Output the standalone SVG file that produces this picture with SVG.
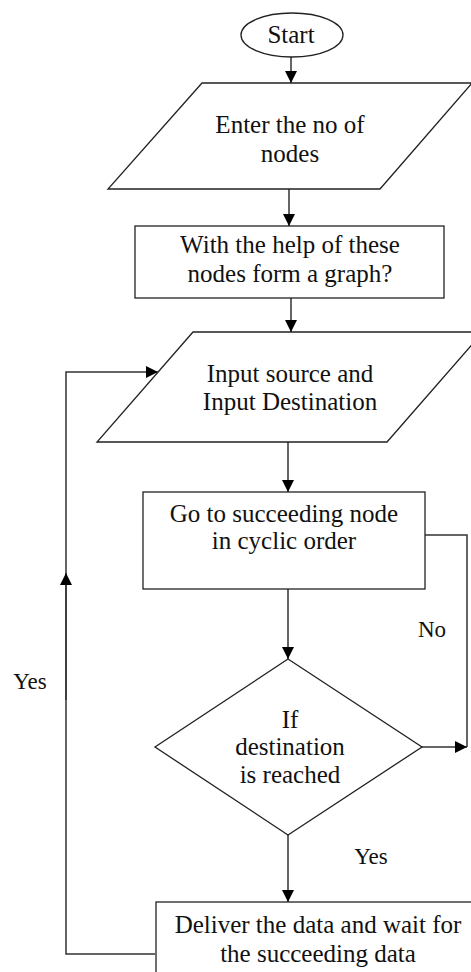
<svg xmlns="http://www.w3.org/2000/svg" width="471" height="972" viewBox="0 0 471 972">
<style>
.shape{fill:#fff;stroke:#222;stroke-width:1.3}
.line{fill:none;stroke:#333;stroke-width:1.5}
.t{font-family:'Liberation Serif','DejaVu Serif','Times New Roman',serif;font-size:25px;fill:#111;text-anchor:middle}
.lbl{font-size:23px}
</style>
<defs>
<marker id="arr" markerWidth="12" markerHeight="12" refX="12" refY="6" orient="auto" markerUnits="userSpaceOnUse">
<path d="M0,0 L12,6 L0,12 Z" fill="#000"/>
</marker>
</defs>
<rect width="471" height="972" fill="#fff"/>
<g id="connectors">
<line class="line" x1="291" y1="57" x2="291" y2="83" marker-end="url(#arr)"/>
<line class="line" x1="289" y1="189" x2="289" y2="226" marker-end="url(#arr)"/>
<line class="line" x1="291" y1="298" x2="291" y2="332" marker-end="url(#arr)"/>
<line class="line" x1="288" y1="442" x2="288" y2="492" marker-end="url(#arr)"/>
<line class="line" x1="288" y1="589" x2="288" y2="659" marker-end="url(#arr)"/>
<line class="line" x1="288" y1="835" x2="288" y2="902" marker-end="url(#arr)"/>
<polyline class="line" points="425,535 467,535 467,747"/>
<line class="line" x1="422" y1="747" x2="467" y2="747" marker-end="url(#arr)"/>
<polyline class="line" points="155,954 66,954 66,372 158,372" marker-end="url(#arr)"/>
<line class="line" x1="66" y1="700" x2="66" y2="573" marker-end="url(#arr)"/>
</g>
<g id="start">
<ellipse class="shape" cx="292" cy="35" rx="51" ry="22"/>
<text class="t" x="291" y="43" font-family="Liberation Serif, serif">Start</text>
</g>
<g id="enter-nodes">
<polygon class="shape" points="202,83 472,83 380,189 108,189"/>
<text class="t" x="290" y="133">Enter the no of</text>
<text class="t" x="290" y="162">nodes</text>
</g>
<g id="form-graph">
<rect class="shape" x="135" y="226" width="309" height="72"/>
<text class="t" x="290" y="253">With the help of these</text>
<text class="t" x="290" y="282">nodes form a graph?</text>
</g>
<g id="input-src-dst">
<polygon class="shape" points="193,332 483,332 387,442 97,442"/>
<text class="t" x="290" y="382">Input source and</text>
<text class="t" x="290" y="410">Input Destination</text>
</g>
<g id="go-next">
<rect class="shape" x="143" y="492" width="282" height="97"/>
<text class="t" x="284" y="522">Go to succeeding node</text>
<text class="t" x="284" y="549">in cyclic order</text>
</g>
<g id="decision">
<polygon class="shape" points="288,659 422,747 288,835 155,747"/>
<text class="t" x="290" y="728">If</text>
<text class="t" x="290" y="755">destination</text>
<text class="t" x="290" y="783">is reached</text>
</g>
<g id="deliver">
<rect class="shape" x="156" y="902" width="330" height="90"/>
<text class="t" x="318" y="933">Deliver the data and wait for</text>
<text class="t" x="318" y="962">the succeeding data</text>
</g>
<g id="labels">
<text class="t lbl" x="432" y="637">No</text>
<text class="t lbl" x="371" y="864">Yes</text>
<text class="t lbl" x="30" y="689">Yes</text>
</g>
</svg>
